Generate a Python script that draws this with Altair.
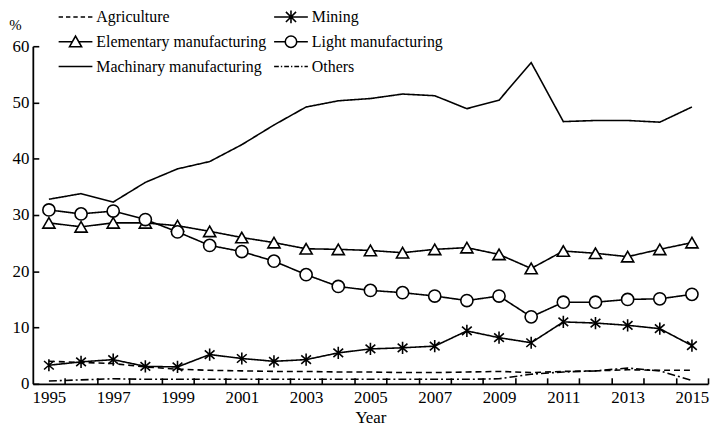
import altair as alt
import pandas as pd

years = list(range(1995, 2016))
agriculture = [4.0, 3.8, 3.6, 3.0, 2.6, 2.4, 2.3, 2.2, 2.2, 2.1, 2.1, 2.0, 2.0, 2.1, 2.2, 2.0, 2.2, 2.3, 2.5, 2.4, 2.4]
mining = [3.3, 3.9, 4.3, 3.1, 3.0, 5.2, 4.5, 4.0, 4.3, 5.5, 6.2, 6.4, 6.7, 9.4, 8.2, 7.3, 11.0, 10.8, 10.4, 9.8, 6.8]
elementary = [28.6, 27.9, 28.6, 28.6, 28.1, 27.1, 26.0, 25.1, 24.0, 23.9, 23.7, 23.3, 23.9, 24.2, 23.0, 20.5, 23.6, 23.2, 22.6, 23.9, 25.1]
light = [30.9, 30.2, 30.7, 29.2, 27.0, 24.6, 23.5, 21.8, 19.4, 17.3, 16.6, 16.2, 15.6, 14.8, 15.6, 11.9, 14.5, 14.5, 15.0, 15.1, 15.9]
machinery = [32.8, 33.8, 32.3, 35.8, 38.2, 39.5, 42.5, 46.0, 49.2, 50.3, 50.7, 51.5, 51.2, 48.9, 50.4, 57.1, 46.6, 46.8, 46.8, 46.5, 49.2]
others = [0.5, 0.7, 0.9, 0.8, 0.8, 0.8, 0.8, 0.8, 0.8, 0.8, 0.8, 0.8, 0.8, 0.8, 0.9, 1.7, 2.1, 2.3, 2.8, 2.3, 0.6]

series_names = ["Agriculture", "Mining", "Elementary manufacturing",
                "Light manufacturing", "Machinary manufacturing", "Others"]
series_values = [agriculture, mining, elementary, light, machinery, others]
marker_series = ["Mining", "Elementary manufacturing", "Light manufacturing"]
# legend is filled column by column
legend_order = ["Agriculture", "Elementary manufacturing", "Machinary manufacturing",
                "Mining", "Light manufacturing", "Others"]

y_ticks = [0, 10, 20, 30, 40, 50, 60]
x_labels = list(range(1995, 2016, 2))
x_tick_marks = [y + 0.5 for y in range(1995, 2016)]

rows = []
for name, vals in zip(series_names, series_values):
    for yr, v in zip(years, vals):
        rows.append({"year": yr, "value": v, "series": name})
df = pd.DataFrame(rows)

FONT = "Liberation Serif"

ASTERISK = "M0,-1V1M-0.8,-0.7L0.8,0.7M-0.8,0.7L0.8,-0.7"

legend_paths_by_name = {
    "Agriculture": "M-1,0H-0.74M-0.565,0H-0.305M-0.13,0H0.13M0.305,0H0.565M0.74,0H1",
    "Mining": "M-1,0H1M0,-0.38V0.38M-0.3,-0.3L0.3,0.3M-0.3,0.3L0.3,-0.3",
    "Elementary manufacturing": "M-1,0H-0.2M0.2,0H1M-0.36,0.3L0,-0.34L0.36,0.3Z",
    "Light manufacturing": "M-1,0H-0.34M0.34,0H1M-0.34,0A0.34,0.34 0 1,0 0.34,0A0.34,0.34 0 1,0 -0.34,0Z",
    "Machinary manufacturing": "M-1,0H1",
    "Others": "M-1,0H-0.72M-0.6,0H-0.52M-0.4,0H-0.12M0,0H0.08M0.2,0H0.48M0.6,0H0.68M0.8,0H1",
}
legend_paths = [legend_paths_by_name[n] for n in legend_order]

xscale = alt.Scale(domain=[1994.5, 2015.5], nice=False, zero=False)
yscale = alt.Scale(domain=[0, 60], nice=False)

base = alt.Chart(df)

lines = base.mark_line(color="black", strokeWidth=1.6).encode(
    x=alt.X("year:Q", scale=xscale,
            axis=alt.Axis(orient="bottom", values=x_labels, format="d", tickSize=0,
                          labelPadding=6, title="Year",
                          titleY=39, titleBaseline="alphabetic",
                          labelFont=FONT, labelFontSize=17, labelColor="black",
                          titleFont=FONT, titleFontSize=17, titleColor="black",
                          titleFontWeight="normal",
                          domainWidth=1.8, domainColor="black", grid=False)),
    y=alt.Y("value:Q", scale=yscale,
            axis=alt.Axis(orient="left", values=y_ticks, tickSize=0, labelPadding=4,
                          labelFont=FONT, labelFontSize=17, labelColor="black",
                          titleFont=FONT, titleFontSize=15, titleColor="black",
                          titleFontWeight="normal",
                          title="%", titleAngle=0, titleX=-18, titleY=-22,
                          titleAlign="center", titleBaseline="middle",
                          domainWidth=1.8, domainColor="black", grid=False)),
    strokeDash=alt.StrokeDash("series:N",
                              scale=alt.Scale(domain=series_names,
                                              range=[[6, 4], [1, 0], [1, 0], [1, 0], [1, 0], [8, 3, 2, 3]]),
                              legend=None),
    detail="series:N",
)

points = base.transform_filter(
    alt.FieldOneOfPredicate(field="series", oneOf=marker_series)
).mark_point(filled=True, fill="white", stroke="black", strokeWidth=1.6, size=150, opacity=1).encode(
    x=alt.X("year:Q", scale=xscale,
            axis=alt.Axis(orient="bottom", values=x_tick_marks, labels=False, domain=False,
                          tickSize=6, offset=-6, tickWidth=1.6, tickColor="black",
                          title=None, grid=False)),
    y=alt.Y("value:Q", scale=yscale,
            axis=alt.Axis(orient="left", values=y_ticks, labels=False, domain=False,
                          tickSize=6, offset=-6, tickWidth=1.6, tickColor="black",
                          title=None, grid=False)),
    shape=alt.Shape("series:N",
                    scale=alt.Scale(domain=marker_series,
                                    range=[ASTERISK, "triangle-up", "circle"]),
                    legend=None),
)

legend_layer = base.transform_filter("false").mark_point(
    filled=False, color="black", strokeWidth=1.6, opacity=1
).encode(
    x=alt.X("year:Q", scale=xscale, axis=None),
    y=alt.Y("value:Q", scale=yscale, axis=None),
    shape=alt.Shape("series:N",
                    scale=alt.Scale(domain=legend_order, range=legend_paths),
                    legend=alt.Legend(title=None, orient="none", legendX=25, legendY=-42,
                                      columns=2, columnPadding=6, rowPadding=0,
                                      clipHeight=25,
                                      labelFont=FONT, labelFontSize=16, labelColor="black",
                                      labelOffset=3, labelLimit=400, padding=0,
                                      symbolSize=1156, symbolStrokeWidth=1.6,
                                      symbolStrokeColor="black", symbolOpacity=1)),
)

chart = alt.layer(lines, points, legend_layer).resolve_scale(
    shape="independent"
).resolve_axis(
    x="independent", y="independent"
).properties(
    width=680, height=340,
    autosize=alt.AutoSizeParams(type="none"),
    padding={"left": 25, "top": 37, "right": 2, "bottom": 41},
    background="white",
).configure(
    font=FONT,
    style={"guide-label": {"font": FONT, "fontSize": 16, "fill": "black"}},
).configure_view(stroke=None).configure_legend(
    labelFont=FONT, labelFontSize=16, labelColor="black"
)

chart.save("out.html", embed_options={"renderer": "svg", "actions": False})
